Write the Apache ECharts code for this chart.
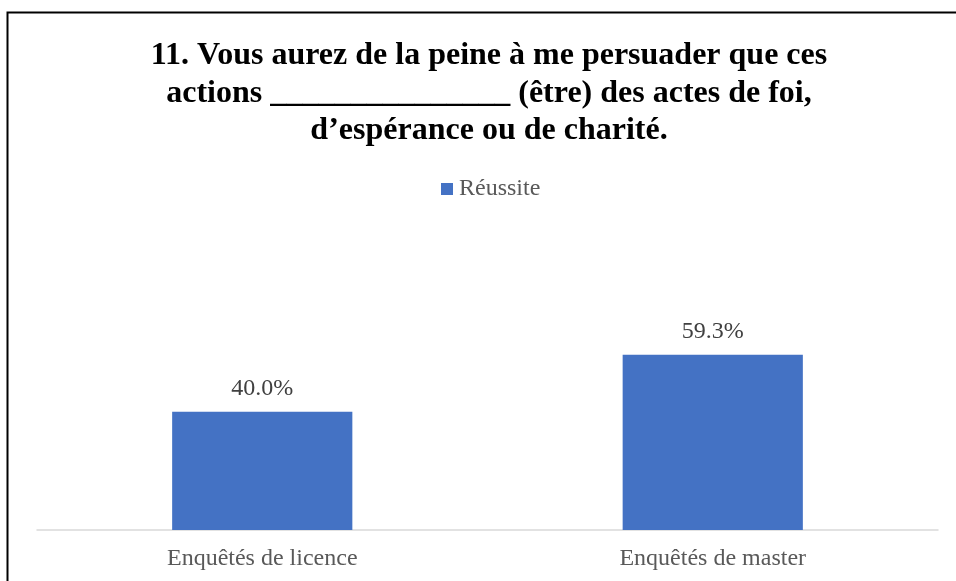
<!DOCTYPE html>
<html>
<head>
<meta charset="utf-8">
<script src="https://cdn.jsdelivr.net/npm/echarts@6/dist/echarts.min.js"></script>
<style>
html,body{margin:0;padding:0;background:#fff;}
#chart{width:956px;height:581px;}
</style>
</head>
<body>
<div id="chart"></div>
<script>
const titleLines = ["11. Vous aurez de la peine à me persuader que ces", "actions _______________ (être) des actes de foi,", "d’espérance ou de charité."];
const categories = ["Enquêtés de licence", "Enquêtés de master"];
const seriesName = "Réussite";
const values = [40.0, 59.3];

const chart = echarts.init(document.getElementById('chart'), null, {renderer: 'canvas'});
chart.setOption({
  backgroundColor: '#fff',
  animation: false,
  title: {
    text: titleLines.join('\n'),
    left: 484,
    top: 32,
    textAlign: 'center',
    textStyle: {
      fontFamily: 'Liberation Serif',
      fontWeight: 'bold',
      fontSize: 32,
      lineHeight: 37.5,
      color: '#000'
    }
  },
  legend: {
    data: [seriesName],
    top: 172,
    left: 436,
    icon: 'rect',
    itemWidth: 12,
    itemHeight: 12,
    itemGap: 6,
    textStyle: {fontFamily: 'Liberation Serif', fontSize: 24, color: '#595959', padding: [0, 0, 0, 1]}
  },
  grid: {left: 37, right: 18, top: 323, bottom: 51, containLabel: false},
  xAxis: {
    type: 'category',
    data: categories,
    axisLine: {lineStyle: {color: '#d9d9d9', width: 1.5}},
    axisTick: {show: false},
    axisLabel: {fontFamily: 'Liberation Serif', fontSize: 24, color: '#595959', margin: 17}
  },
  yAxis: {
    type: 'value',
    min: 0,
    max: 70,
    show: false,
    splitLine: {show: false}
  },
  series: [{
    name: seriesName,
    type: 'bar',
    data: values,
    barWidth: '40%',
    itemStyle: {color: '#4472C4'},
    label: {
      show: true,
      position: 'top',
      distance: 11,
      formatter: p => p.value.toFixed(1) + '%',
      fontFamily: 'Liberation Serif',
      fontSize: 24,
      color: '#404040'
    }
  }],
  graphic: [{
    type: 'rect',
    shape: {x: 7.5, y: 12.5, width: 1000, height: 1000},
    style: {fill: 'none', stroke: '#000', lineWidth: 2},
    silent: true
  }]
});
</script>
</body>
</html>
